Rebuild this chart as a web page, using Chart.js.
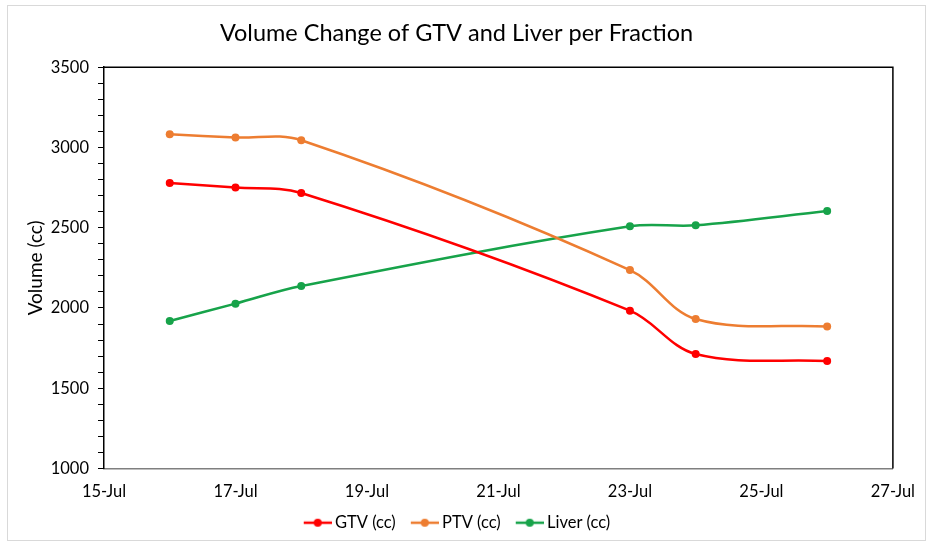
<!DOCTYPE html>
<html>
<head>
<meta charset="utf-8">
<title>Volume Change of GTV and Liver per Fraction</title>
<script src="https://cdn.jsdelivr.net/npm/chart.js@4/dist/chart.umd.min.js"></script>
<style>
    html, body { margin: 0; padding: 0; background: #fff; }
    #wrap { width: 928px; height: 544px; }
</style>
</head>
<body>
<div id="wrap"><canvas id="volumeChart" width="928" height="544"></canvas></div>
<script>
// Days of July on which each fraction was scanned
const fractionDays = [16, 17, 18, 23, 24, 26];
const gtvVolumes = [2779, 2750, 2716, 1983, 1713, 1669];
const ptvVolumes = [3082, 3062, 3045, 2236, 1931, 1885];
const liverVolumes = [1919, 2027, 2137, 2509, 2515, 2604];
const monthLabel = 'Jul';

const FONT = 'Lato, "Open Sans", sans-serif';

// Legend marker: short line with a dot, like the Excel legend.
// The canvas is wider than the legend box so the line sits close to the text.
function makeLegendMarker(color) {
    const c = document.createElement('canvas');
    c.width = 34;
    c.height = 10;
    const g = c.getContext('2d');
    g.strokeStyle = color;
    g.lineWidth = 2.5;
    g.beginPath();
    g.moveTo(6, 5);
    g.lineTo(34, 5);
    g.stroke();
    g.fillStyle = color;
    g.beginPath();
    g.arc(20, 5, 4, 0, Math.PI * 2);
    g.fill();
    return c;
}

function toPoints(values) {
    return fractionDays.map((d, i) => ({ x: d, y: values[i] }));
}

function makeDataset(label, values, color) {
    return {
        label: label,
        data: toPoints(values),
        borderColor: color,
        backgroundColor: color,
        borderWidth: 2.5,
        tension: 0.35,
        pointRadius: 4,
        pointHoverRadius: 5,
        pointBackgroundColor: color,
        pointBorderWidth: 0,
        legendMarker: makeLegendMarker(color)
    };
}

// White background, outer chart border and the black frame of the plot area
const framePlugin = {
    id: 'frame',
    beforeDraw(chart) {
        const ctx = chart.ctx;
        ctx.save();
        ctx.fillStyle = '#fff';
        ctx.fillRect(0, 0, chart.width, chart.height);
        ctx.strokeStyle = '#d9d9d9';
        ctx.lineWidth = 1;
        ctx.strokeRect(7.5, 5.5, 918, 535);
        ctx.restore();
    },
    afterDatasetsDraw(chart) {
        const { left, right, top, bottom } = chart.chartArea;
        const ctx = chart.ctx;
        ctx.save();
        ctx.strokeStyle = '#000';
        ctx.lineWidth = 1.5;
        ctx.beginPath();
        ctx.moveTo(left, top);
        ctx.lineTo(right, top);
        ctx.lineTo(right, bottom);
        ctx.stroke();
        ctx.restore();
    }
};

new Chart(document.getElementById('volumeChart'), {
    type: 'line',
    data: {
        datasets: [
            makeDataset('GTV (cc)', gtvVolumes, '#ff0000'),
            makeDataset('PTV (cc)', ptvVolumes, '#ed7d31'),
            makeDataset('Liver (cc)', liverVolumes, '#17a34a')
        ]
    },
    options: {
        responsive: false,
        animation: false,
        layout: {
            padding: { left: 20, right: 35, top: 5, bottom: 3 }
        },
        plugins: {
            title: {
                display: true,
                text: 'Volume Change of GTV and Liver per Fraction',
                color: '#000',
                font: { family: FONT, size: 23.5, weight: 'normal' },
                padding: { top: 14, bottom: 20 }
            },
            legend: {
                position: 'bottom',
                labels: {
                    color: '#000',
                    font: { family: FONT, size: 16.5 },
                    usePointStyle: true,
                    pointStyleWidth: 24,
                    padding: 14,
                    generateLabels(chart) {
                        return chart.data.datasets.map((ds, i) => ({
                            text: ds.label,
                            pointStyle: ds.legendMarker,
                            fillStyle: ds.borderColor,
                            strokeStyle: ds.borderColor,
                            fontColor: '#000',
                            lineWidth: 0,
                            hidden: !chart.isDatasetVisible(i),
                            datasetIndex: i
                        }));
                    }
                }
            },
            tooltip: { enabled: false }
        },
        scales: {
            x: {
                type: 'linear',
                min: 15,
                max: 27,
                afterFit(scale) { scale.height = 32; },
                ticks: {
                    stepSize: 2,
                    color: '#000',
                    font: { family: FONT, size: 16.5 },
                    padding: 13,
                    callback: value => value + '-' + monthLabel
                },
                grid: { display: true, drawOnChartArea: false, drawTicks: false },
                border: { display: true, color: '#7f7f7f', width: 1.5 }
            },
            y: {
                min: 1000,
                max: 3500,
                afterFit(scale) { scale.width = 84; },
                title: {
                    display: true,
                    text: 'Volume (cc)',
                    color: '#000',
                    font: { family: FONT, size: 19 },
                    padding: { bottom: 4 }
                },
                ticks: {
                    stepSize: 100,
                    autoSkip: false,
                    color: '#000',
                    font: { family: FONT, size: 16.5 },
                    padding: 9,
                    callback: value => (value % 500 === 0 ? value : '')
                },
                grid: {
                    drawOnChartArea: false,
                    drawTicks: true,
                    tickLength: 6,
                    color: '#000'
                },
                border: { display: true, color: '#000', width: 1.5 }
            }
        }
    },
    plugins: [framePlugin]
});
</script>
</body>
</html>
